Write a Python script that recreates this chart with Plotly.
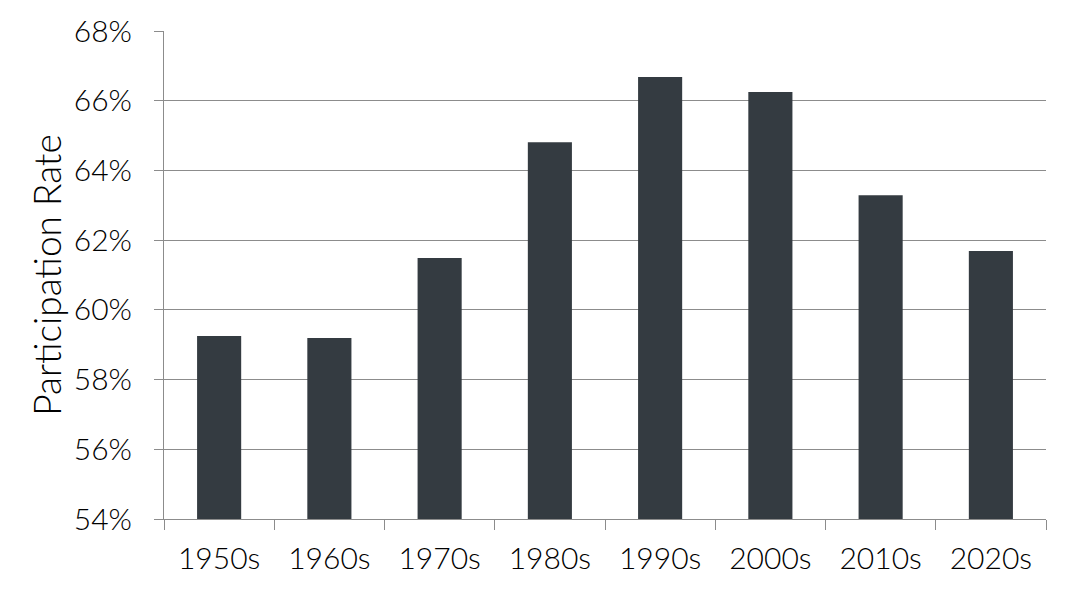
import plotly.graph_objects as go

decades = ['1950s', '1960s', '1970s', '1980s', '1990s', '2000s', '2010s', '2020s']
participation = [59.25, 59.19, 61.49, 64.81, 66.68, 66.25, 63.29, 61.69]

BAR_COLOR = '#343b41'
GRID_COLOR = '#8c8c8c'

fig = go.Figure(go.Bar(
    x=decades,
    y=participation,
    marker=dict(color=BAR_COLOR, line=dict(width=0)),
    hovertemplate='%{x}: %{y:.2f}%<extra></extra>',
))

# la pagina deja 8px de margen en el body, se compensa aqui
fig.update_layout(
    width=1062, height=585,
    margin=dict(l=156, r=24, t=23, b=74),
    plot_bgcolor='white', paper_bgcolor='white',
    bargap=0.6,
    showlegend=False,
    font=dict(family='Lato, sans-serif', size=30, color='black', weight=300),
)

fig.update_xaxes(
    type='category',
    automargin=False,
    showline=True, linecolor=GRID_COLOR, linewidth=1,
    ticks='outside', tickson='boundaries', ticklen=10, tickcolor=GRID_COLOR,
    showgrid=False,
    ticklabelstandoff=13,
    tickfont=dict(size=30),
)

fig.update_yaxes(
    range=[54, 68], dtick=2, ticksuffix='%',
    automargin=False,
    showgrid=True, gridcolor=GRID_COLOR, gridwidth=1,
    showline=True, linecolor=GRID_COLOR, linewidth=1,
    ticks='outside', ticklen=9, tickcolor=GRID_COLOR,
    ticklabelstandoff=16,
    zeroline=False,
    title=dict(text='Participation Rate', font=dict(size=37), standoff=0),
    tickfont=dict(size=30),
)

fig.write_html('out.html')
